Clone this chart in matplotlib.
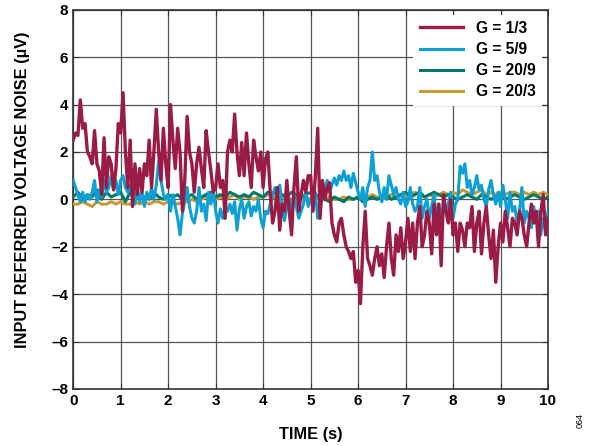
import numpy as np
import matplotlib
matplotlib.use("Agg")
import matplotlib.pyplot as plt

plt.rcParams['font.family'] = ['Liberation Sans', 'DejaVu Sans']

# time bases (s)
t_fast = np.arange(0, 201) * 0.05
t_slow = np.arange(0, 101) * 0.1

# G = 1/3, uV, every 0.05 s
g_1_3 = [2.5, 2.8, 2.7, 4.2, 3.0, 3.2, 2.0, 1.8, 1.5, 2.9,
         1.5, 1.2, 0.2, 2.6, 0.5, 1.8, 1.5, 0.4, 1.3, 3.2,
         2.8, 4.5, 2.0, 0.5, 2.5, -0.3, 1.5, 0.2, 1.3, 0.3,
         1.5, 1.0, 2.5, 0.5, 2.0, 3.8, 2.0, 0.8, 3.0, 1.5,
         0.5, 4.0, 2.5, 1.3, 3.0, 2.0, -0.5, 0.8, 3.5, 2.0,
         1.5, 0.3, 1.5, 2.2, 1.3, 0.5, 2.9, 2.0, 1.2, 0.3,
         0.5, 1.5, 0.5, 0.8, -0.8, 2.0, 2.5, 2.0, 3.6, 2.0,
         1.0, 2.4, 1.0, 2.8, 1.5, 0.5, 2.5, 1.8, 1.2, 2.0,
         0.5, 1.7, 2.0, 0.3, -1.0, -0.5, 0.5, -1.3, -0.2, -0.5,
         0.8, -0.5, -1.5, 0.5, 1.8, -0.5, 0.2, 0.8, 0.3, 1.0,
         1.0, -0.5, 1.0, 3.0, -0.8, 0.8, 0.0, 0.5, 0.7, -1.0,
         -1.5, -1.8, -1.0, -0.8, -1.5, -2.0, -2.2, -2.5, -2.2, -3.5,
         -3.0, -4.4, -2.0, -0.5, -2.5, -2.8, -3.2, -2.5, -2.0, -2.8,
         -2.3, -3.3, -2.0, -1.0, -2.5, -3.2, -1.5, -2.2, -1.2, -2.5,
         -1.8, -0.8, -2.2, -1.0, -2.5, -1.0, -0.3, -2.0, -1.5, -0.5,
         -1.0, -2.3, -0.2, -1.5, -0.2, -2.8, 0.2, -0.5, -1.0, 0.0,
         -1.5, -1.0, -2.2, -1.0, -1.3, -2.0, -1.0, -1.2, -0.3, -2.2,
         -1.0, -0.5, -2.3, -1.0, -0.3, -1.5, -2.5, -1.3, -3.5, -2.0,
         -1.0, -1.8, -0.5, -1.2, -2.0, -0.8, -1.0, -1.5, -0.5, -0.8,
         -1.5, -2.0, -1.0, -0.2, -1.0, -0.5, -2.0, -0.5, 0.2, -1.5,
         -0.8]

# G = 5/9, uV, every 0.05 s
g_5_9 = [0.8, 0.5, 0.2, -0.1, 0.3, -0.1, 0.2, 0.0, 0.3, 0.8,
         -0.1, 0.4, 0.1, 0.8, 0.3, 0.5, 1.0, 0.4, 0.8, 0.2,
         0.8, 1.0, 0.5, 0.3, 0.6, 0.2, -0.2, 0.5, -0.1, 0.3,
         -0.3, 0.3, 0.0, 0.5, 0.0, 0.6, 1.6, 0.8, 0.2, 0.0,
         0.2, -0.5, 0.2, -0.3, -0.8, -1.5, -0.6, -0.1, 0.5, -0.3,
         -0.8, -1.0, -0.5, 0.5, -0.5, -0.2, -0.9, 0.3, -0.2, 0.4,
         -0.5, -1.0, -0.4, -0.8, -0.3, -0.5, -0.2, -0.6, -0.1, -1.3,
         -0.4, 0.0, -0.8, -0.3, -0.1, -0.7, -0.3, -0.5, 0.0, -0.8,
         -1.2, -0.5, -0.6, -0.2, 0.2, 0.5, 0.3, 0.6, -0.3, -0.9,
         -0.3, 0.0, -0.5, 0.2, -0.3, -0.8, -0.5, -0.2, 0.3, -0.3,
         0.0, -0.2, 0.3, -0.8, -0.2, 0.0, 0.5, 0.8, 0.3, 0.6,
         0.9, 0.6, 1.0, 0.8, 1.2, 0.8, 1.0, 0.5, 1.1, 0.7,
         0.3, 0.0, 0.5, -0.3, 0.5, 0.8, 2.0, 0.8, 1.0, 0.3,
         -0.1, 0.5, 0.0, 1.0, 0.6, 0.2, 0.5, 0.0, -0.2, 0.3,
         -0.3, -0.1, 0.5, -0.2, -0.5, -0.3, 0.5, -0.8, -0.3, 0.0,
         -0.8, -0.3, 0.2, -0.8, -0.2, -1.0, -0.1, -0.5, -0.2, 0.3,
         -0.8, -0.2, 0.0, 1.4, 1.1, 1.5, 0.5, 0.8, 0.2, 0.5,
         1.0, 0.4, 0.6, 0.0, -0.3, 0.4, 0.8, 0.2, -0.2, 0.3,
         -0.3, 0.6, 0.0, -0.8, 0.3, -0.5, -0.3, -1.0, -0.5, 0.5,
         -1.0, -0.5, -0.8, -1.2, -0.3, -1.0, -0.5, -1.5, -0.8, -1.3,
         -0.5]

# G = 20/9, uV, every 0.1 s
g_20_9 = [0.1, 0.3, 0.0, 0.2, 0.1, 0.4, 0.0, 0.3, 0.1, 0.2,
          0.3, -0.1, 0.3, 0.0, 0.2, 0.1, 0.0, 0.3, 0.1, 0.0,
          0.2, 0.1, 0.2, 0.0, 0.1, 0.2, 0.0, 0.1, 0.2, 0.3,
          0.1, 0.2, 0.1, 0.3, 0.2, 0.1, 0.2, 0.1, 0.3, 0.2,
          0.1, 0.3, 0.2, 0.4, 0.2, 0.1, 0.3, 0.2, 0.1, 0.2,
          0.3, 0.1, 0.2, 0.0, -0.1, 0.1, 0.0, -0.1, 0.1, 0.0,
          0.1, -0.1, 0.0, 0.1, 0.0, 0.1, 0.2, 0.0, 0.1, 0.2,
          0.3, 0.1, 0.2, 0.3, 0.1, 0.2, 0.3, 0.2, 0.1, 0.2,
          0.1, 0.0, 0.1, 0.2, 0.1, 0.0, 0.2, 0.1, 0.0, 0.1,
          0.2, 0.0, 0.1, 0.2, 0.1, 0.0, 0.1, 0.2, 0.1, 0.0,
          0.1]

# G = 20/3, uV, every 0.1 s
g_20_3 = [-0.2, -0.2, -0.1, -0.2, -0.3, -0.1, -0.2, -0.2, -0.1, -0.2,
          -0.1, -0.2, -0.2, -0.1, -0.2, -0.1, -0.2, -0.1, -0.1, -0.2,
          -0.1, -0.1, -0.2, -0.1, -0.1, 0.0, -0.1, 0.0, 0.1, 0.0,
          0.0, 0.1, 0.0, 0.1, 0.2, 0.0, 0.1, 0.1, 0.0, 0.1,
          0.1, 0.2, 0.1, 0.0, 0.1, 0.1, 0.0, 0.1, 0.0, 0.1,
          0.0, 0.1, 0.1, 0.0, 0.1, 0.0, 0.0, 0.1, 0.0, 0.0,
          0.1, 0.0, 0.1, 0.2, 0.1, 0.0, 0.1, 0.2, 0.1, 0.2,
          0.1, 0.2, 0.3, 0.2, 0.1, 0.2, 0.1, 0.2, 0.3, 0.2,
          0.3, 0.2, 0.4, 0.3, 0.2, 0.3, 0.4, 0.2, 0.3, 0.2,
          0.3, 0.2, 0.3, 0.3, 0.2, 0.3, 0.2, 0.3, 0.2, 0.3,
          0.2]

fig = plt.figure(figsize=(5.95, 4.46), dpi=100)
ax = fig.add_axes([0.123, 0.128, 0.798, 0.850])

ax.plot(t_slow, g_20_3, color='#C59B32', lw=2.2, label='G = 20/3', zorder=3)
ax.plot(t_slow, g_20_9, color='#00786B', lw=2.2, label='G = 20/9', zorder=4)
ax.plot(t_fast, g_5_9, color='#0EA0D5', lw=2.2, label='G = 5/9', zorder=5)
ax.plot(t_fast, g_1_3, color='#9A1B43', lw=2.4, label='G = 1/3', zorder=6)

ax.set_xlim(0, 10)
ax.set_ylim(-8, 8)
ax.set_xticks(range(0, 11))
ax.set_yticks(range(-8, 9, 2))
ax.set_yticklabels([str(v).replace('-', '\u2013') for v in range(-8, 9, 2)])
ax.grid(True, color='#555555', lw=0.9)
ax.tick_params(direction='in', length=4, top=True, right=True,
               labelsize=11, colors='#333333', labelcolor='black')
for lbl in ax.get_xticklabels() + ax.get_yticklabels():
    lbl.set_fontweight('bold')
for s in ax.spines.values():
    s.set_color('#333333')
    s.set_linewidth(1.2)

ax.set_xlabel('TIME (s)', fontsize=11.8, fontweight='bold', labelpad=14)
ax.set_ylabel('INPUT REFERRED VOLTAGE NOISE (µV)', fontsize=11.8,
              fontweight='bold')
ax.yaxis.set_label_coords(-0.092, 0.525)

h, l = ax.get_legend_handles_labels()
leg = ax.legend(h[::-1], l[::-1], loc='upper right', frameon=True,
                fancybox=False, framealpha=1, edgecolor='none',
                handlelength=2.8, borderpad=0.4, labelspacing=0.4,
                prop={'weight': 'bold', 'size': 11.2},
                bbox_to_anchor=(1.003, 1.008))
leg.set_zorder(10)

fig.text(0.975, 0.04, '064', rotation=90, fontsize=6.5, ha='center', va='bottom')

fig.savefig('out.png', dpi=100)
